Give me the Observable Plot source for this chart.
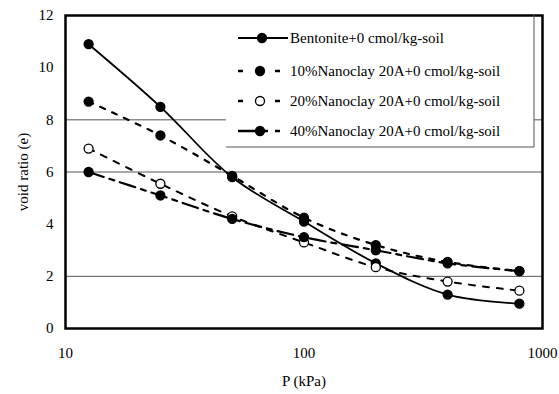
<!DOCTYPE html>
<html><head><meta charset="utf-8">
<script src="https://cdn.jsdelivr.net/npm/d3@7"></script>
<script src="https://cdn.jsdelivr.net/npm/@observablehq/plot@0.6"></script>
<style>
body{margin:0;background:#fff}
#wrap{position:relative;width:559px;height:394px}
#wrap svg{position:absolute;left:0;top:0}
#wrap svg, #wrap svg text{font-family:"Times New Roman","Liberation Serif","DejaVu Serif",serif !important}
</style>
</head><body><div id="wrap"></div>
<script>
const pressure = [12.5, 25, 50, 100, 200, 400, 800];
const bentonite = [10.9, 8.5, 5.8, 4.1, 2.5, 1.3, 0.95];
const nano10 = [8.7, 7.4, 5.85, 4.25, 3.2, 2.55, 2.2];
const nano20 = [6.9, 5.55, 4.3, 3.3, 2.35, 1.8, 1.45];
const nano40 = [6.0, 5.1, 4.2, 3.5, 3.0, 2.5, 2.2];
const seriesNames = ["Bentonite+0 cmol/kg-soil", "10%Nanoclay 20A+0 cmol/kg-soil", "20%Nanoclay 20A+0 cmol/kg-soil", "40%Nanoclay 20A+0 cmol/kg-soil"];
const xTicks = [10, 100, 1000];
const yTicks = [0, 2, 4, 6, 8, 10, 12];
const gridY = [2, 6, 8];

const FONT = "'Times New Roman', 'Liberation Serif', serif";
const seriesValues = [bentonite, nano10, nano20, nano40];
const styles = [
  {dash: null, width: 1.8, fill: "black"},
  {dash: "5,8", width: 2.2, fill: "black"},
  {dash: "6,8", width: 2, fill: "white"},
  {dash: "16,6,5,6", width: 2.2, fill: "black"}
];
const rows = [];
seriesValues.forEach((vals, i) => vals.forEach((v, j) => rows.push({s: i, p: pressure[j], e: v})));

const marks = [
  Plot.ruleY(gridY, {stroke: "#555", strokeWidth: 1})
];
styles.forEach((st, i) => {
  const d = rows.filter(r => r.s === i);
  marks.push(Plot.line(d, {x: "p", y: "e", curve: "catmull-rom", stroke: "black", strokeWidth: st.width, strokeDasharray: st.dash ?? undefined}));
});
styles.forEach((st, i) => {
  const d = rows.filter(r => r.s === i);
  marks.push(Plot.dot(d, {x: "p", y: "e", r: 4.5, fill: st.fill, stroke: "black", strokeWidth: 1.3}));
});
marks.push(Plot.frame({stroke: "black", strokeWidth: 2.5}));

const chart = Plot.plot({
  width: 559, height: 394,
  marginLeft: 65, marginRight: 17, marginTop: 15, marginBottom: 66,
  style: {fontFamily: FONT, fontSize: "15px", background: "white", color: "black"},
  x: {type: "log", domain: [10, 1000], ticks: xTicks, tickFormat: d => String(d), tickSize: 0, tickPadding: 19, label: "P (kPa)", labelAnchor: "center", labelArrow: "none", labelOffset: 57},
  y: {domain: [0, 12], ticks: yTicks, tickSize: 0, tickPadding: 12, label: "void ratio (e)", labelAnchor: "center", labelArrow: "none", labelOffset: 48},
  marks
});
const wrap = document.getElementById("wrap");
wrap.appendChild(chart);

// legend overlay
const lg = d3.select(wrap).append("svg").attr("width", 559).attr("height", 394).style("pointer-events", "none");
lg.append("rect").attr("x", 226).attr("y", 17).attr("width", 308).attr("height", 130).attr("fill", "white");
lg.append("line").attr("x1", 226).attr("x2", 534).attr("y1", 147).attr("y2", 147).attr("stroke", "#555");
lg.append("line").attr("x1", 534).attr("x2", 534).attr("y1", 15).attr("y2", 147).attr("stroke", "#555");
const rowY = [38, 71, 101, 131];
seriesNames.forEach((name, i) => {
  const y = rowY[i];
  const g = lg.append("g");
  if (i === 0) {
    g.append("line").attr("x1", 238).attr("x2", 288).attr("y1", y).attr("y2", y).attr("stroke", "black").attr("stroke-width", 2);
  } else if (i === 3) {
    g.append("line").attr("x1", 238).attr("x2", 268).attr("y1", y).attr("y2", y).attr("stroke", "black").attr("stroke-width", 2.5);
    g.append("line").attr("x1", 275).attr("x2", 280).attr("y1", y).attr("y2", y).attr("stroke", "black").attr("stroke-width", 2.5);
  } else {
    g.append("line").attr("x1", 238).attr("x2", 243).attr("y1", y).attr("y2", y).attr("stroke", "black").attr("stroke-width", 2.5);
    g.append("line").attr("x1", 275).attr("x2", 280).attr("y1", y).attr("y2", y).attr("stroke", "black").attr("stroke-width", 2.5);
  }
  g.append("circle").attr("cx", i === 0 ? 262 : 260).attr("cy", y).attr("r", 4.5).attr("fill", styles[i].fill).attr("stroke", "black").attr("stroke-width", 1.3);
  g.append("text").attr("x", 290).attr("y", y).attr("dy", "0.35em").style("font-family", FONT).attr("font-size", 15).text(name);
});
</script>
</body></html>
